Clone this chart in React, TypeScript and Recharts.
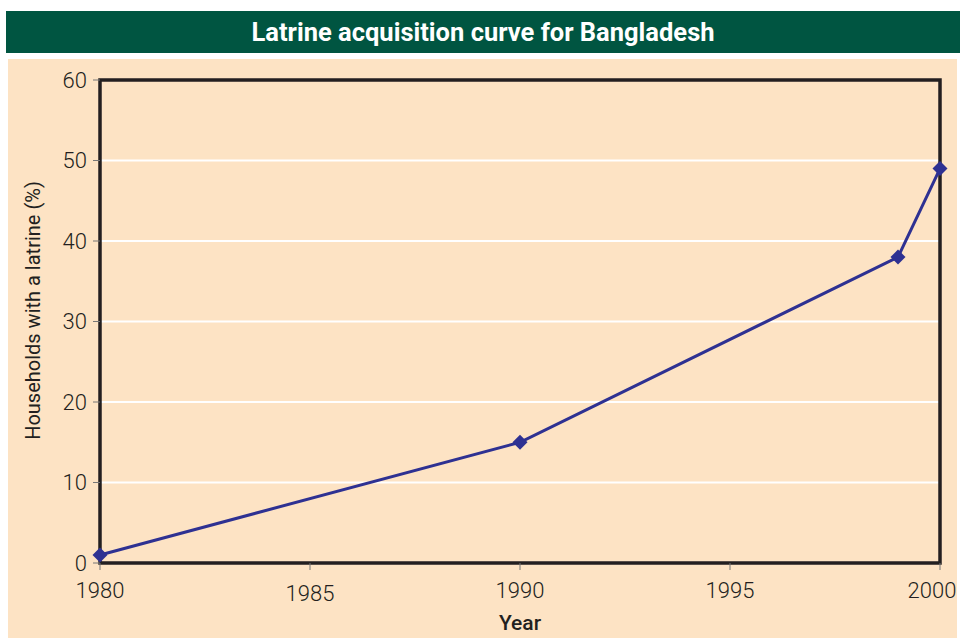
import {
  CartesianGrid,
  Label,
  Line,
  LineChart,
  ReferenceArea,
  XAxis,
  YAxis,
} from "recharts"

const YEARS = [1980, 1990, 1999, 2000]
const HOUSEHOLDS = [1, 15, 38, 49]
const X_TICKS = [1980, 1985, 1990, 1995, 2000]
const Y_TICKS = [0, 10, 20, 30, 40, 50, 60]

const data = YEARS.map((year, i) => ({ year, pct: HOUSEHOLDS[i] }))

const INK = "#231f20"
const NAVY = "#2e3192"
const FONT = "Roboto, 'Liberation Sans', Arial, sans-serif"

function Diamond(props: any) {
  const { cx, cy } = props
  if (cx == null || cy == null) return null
  const r = 7.5
  return (
    <path
      d={`M${cx},${cy - r} L${cx + r},${cy} L${cx},${cy + r} L${cx - r},${cy} Z`}
      fill={NAVY}
    />
  )
}

// last label sits a bit left so it stays inside the panel
function YearTick(props: any) {
  const { x, y, payload } = props
  const v = payload.value
  const dx = v === 2000 ? -8 : 0
  const dy = v === 1985 ? 3 : 0
  return (
    <text
      x={x + dx}
      y={y + dy}
      dy="0.75em"
      textAnchor="middle"
      fill={INK}
      fontSize={22}
      fontWeight={300}
      fontFamily={FONT}
    >
      {v}
    </text>
  )
}

function YLabel(props: any) {
  const { viewBox } = props
  const cx = 25
  const cy = viewBox.y + viewBox.height / 2 - 11
  return (
    <text
      x={cx}
      y={cy}
      transform={`rotate(-90 ${cx} ${cy})`}
      textAnchor="middle"
      dominantBaseline="central"
      fill={INK}
      fontSize={20}
      fontWeight={400}
      fontFamily={FONT}
    >
      Households with a latrine (%)
    </text>
  )
}

export default function App() {
  return (
    <div style={{ position: "absolute", left: 0, top: 0, width: 969, height: 638, background: "#fff" }}>
      <div
        style={{
          position: "absolute",
          left: 6,
          top: 11,
          width: 954,
          height: 42,
          background: "#005541",
          color: "#fff",
          fontFamily: FONT,
          fontWeight: 700,
          fontSize: 25.5,
          lineHeight: "42px",
          textAlign: "center",
        }}
      >
        Latrine acquisition curve for Bangladesh
      </div>
      <div
        style={{
          position: "absolute",
          left: 8,
          top: 59,
          width: 949,
          height: 579,
          background: "#fde3c4",
        }}
      >
        <LineChart
          width={949}
          height={579}
          data={data}
          margin={{ top: 21, right: 17, left: 32, bottom: 0 }}
        >
          <CartesianGrid stroke="#ffffff" strokeWidth={2} vertical={false} />
          <XAxis
            dataKey="year"
            type="number"
            domain={[1980, 2000]}
            ticks={X_TICKS}
            height={75}
            tickSize={7}
            tickMargin={11}
            tickLine={{ stroke: "#777" }}
            axisLine={false}
            tick={<YearTick />}
          >
            <Label
              value="Year"
              position="insideBottom"
              offset={8}
              fill={INK}
              fontSize={21}
              fontWeight={500}
              fontFamily={FONT}
            />
          </XAxis>
          <YAxis
            type="number"
            domain={[0, 60]}
            ticks={Y_TICKS}
            width={60}
            tickSize={7}
            tickMargin={6}
            tickLine={{ stroke: "#777" }}
            axisLine={false}
            tick={{ fill: INK, fontSize: 22, fontWeight: 300, fontFamily: FONT }}
          >
            <Label content={<YLabel />} />
          </YAxis>
          <ReferenceArea
            x1={1980}
            x2={2000}
            y1={0}
            y2={60}
            fill="none"
            fillOpacity={0}
            stroke={INK}
            strokeWidth={3.5}
            strokeOpacity={1}
          />
          <Line
            dataKey="pct"
            type="linear"
            stroke={NAVY}
            strokeWidth={3}
            dot={<Diamond />}
            activeDot={false}
            isAnimationActive={false}
          />
        </LineChart>
      </div>
    </div>
  )
}
